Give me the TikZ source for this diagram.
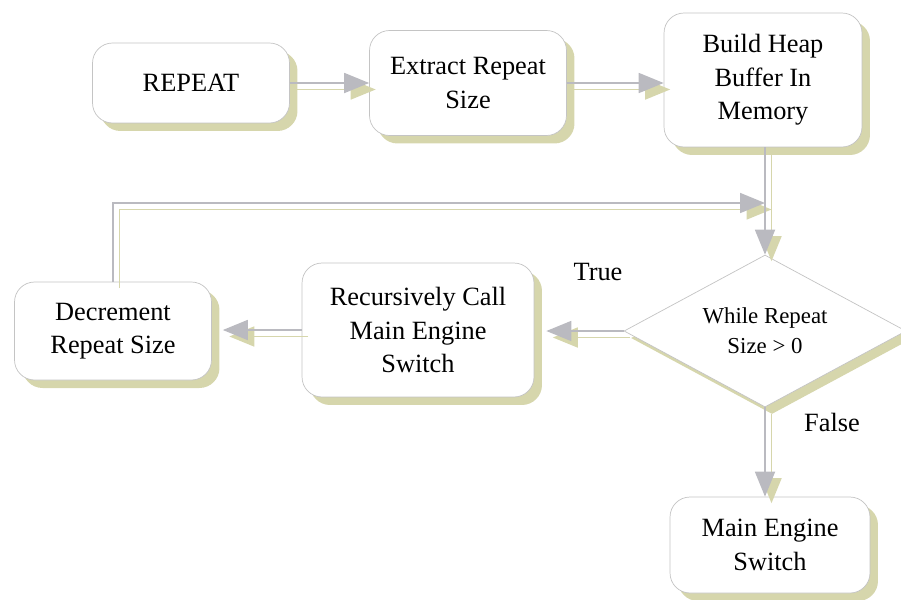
\documentclass[tikz,border=0pt]{standalone}
\usepackage{fontspec}
\setmainfont{Liberation Serif}
\usetikzlibrary{arrows.meta,shapes.geometric,shadows}
\definecolor{edge}{RGB}{196,196,196}
\definecolor{shade}{RGB}{214,214,172}
\definecolor{wire}{RGB}{186,186,192}
\tikzset{
  stepbox/.style={draw=edge, fill=white, rounded corners=0.4cm, align=center,
    font=\fontsize{15}{19}\selectfont, inner sep=2pt,
    drop shadow={shadow xshift=0.16cm, shadow yshift=-0.16cm, fill=shade, opacity=1}},
  testbox/.style={diamond, shape aspect=1.87, draw=edge, fill=white, align=center, inner sep=0pt,
    font=\fontsize{13}{17}\selectfont,
    drop shadow={shadow xshift=0.14cm, shadow yshift=-0.14cm, fill=shade, opacity=1}},
  flow/.style={line width=1pt, -{Triangle[length=0.5cm,width=0.4cm]}},
  tag/.style={font=\fontsize{15}{19}\selectfont}
}
\begin{document}
\begin{tikzpicture}[x=0.02cm, y=-0.02cm]
  \useasboundingbox (0,0) rectangle (901,599);
  % top row
  \node[stepbox, minimum width=3.94cm, minimum height=1.6cm] (rep) at (191,83) {REPEAT};
  \node[stepbox, minimum width=3.94cm, minimum height=2.1cm] (extract) at (468,83) {Extract Repeat\\Size};
  \node[stepbox, minimum width=3.96cm, minimum height=2.68cm] (heap) at (763,80) {Build Heap\\Buffer In\\Memory};
  % decision and loop
  \node[testbox, minimum width=5.64cm, minimum height=3.04cm] (cond) at (765,331) {While Repeat\\Size > 0};
  \node[stepbox, minimum width=4.64cm, minimum height=2.68cm] (rec) at (418,330) {Recursively Call\\Main Engine\\Switch};
  \node[stepbox, minimum width=3.94cm, minimum height=1.96cm] (dec) at (113,331) {Decrement\\Repeat Size};
  \node[stepbox, minimum width=4cm, minimum height=1.92cm] (main) at (770,545) {Main Engine\\Switch};
  \node[tag] (yes) at (598,272) {True};
  \node[tag] (no) at (832,422) {False};
  \coordinate (join) at (765,203);

  % connectors, shadow first
  \foreach \col/\dd in {shade/0.13cm, wire/0cm}{
    \begin{scope}[flow, draw=\col, transform canvas={shift={(\dd,-\dd)}}]
      \draw (rep) -- (extract);
      \draw (extract.east) -- (extract.east -| heap.west);
      \draw (heap.south -| cond) -- (cond.north);
      \draw (dec.north) |- (join);
      \draw[shorten >=0.24cm] (cond.west) -- (cond.west -| rec.east);
      \draw[shorten >=0.22cm] (rec.west) -- (rec.west -| dec.east);
      \draw (cond.south) -- (cond.south |- main.north);
    \end{scope}
  }
\end{tikzpicture}
\end{document}
